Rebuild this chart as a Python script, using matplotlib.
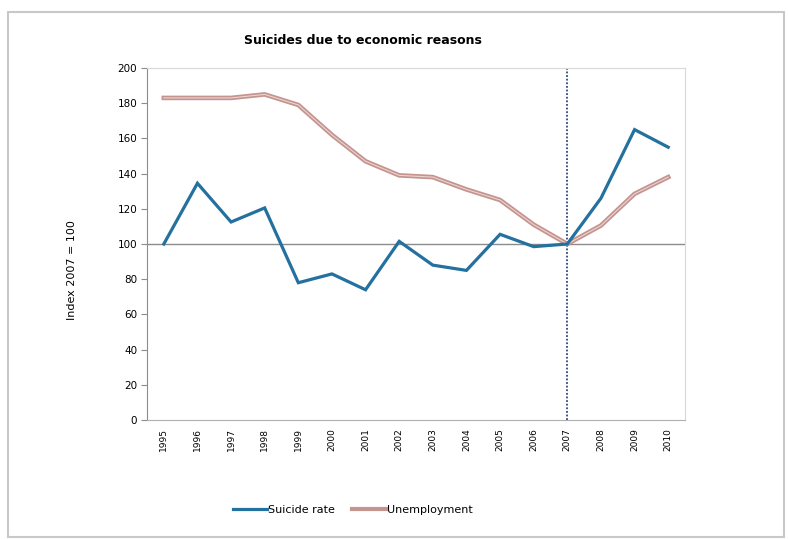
import numpy as np
import matplotlib
matplotlib.use('Agg')
import matplotlib.pyplot as plt
from matplotlib.patches import Rectangle
from matplotlib.lines import Line2D

years = [1995, 1996, 1997, 1998, 1999, 2000, 2001, 2002,
         2003, 2004, 2005, 2006, 2007, 2008, 2009, 2010]
suicide = [100, 134.5, 112.5, 120.5, 78, 83, 74, 101.5,
           88, 85, 105.5, 98.5, 100, 126, 165, 155]
unemployment = [183, 183, 183, 185, 179, 162, 147, 139,
                138, 131, 125, 111, 100, 110.5, 128.5, 138]
yticks = [0, 20, 40, 60, 80, 100, 120, 140, 160, 180, 200]

plt.rcParams['font.family'] = ['DejaVu Sans']

W, H = 788, 539
fig = plt.figure(figsize=(W / 100, H / 100), dpi=100)
ax = fig.add_axes([147 / W, 1 - 420 / H, (685 - 147) / W, (420 - 68) / H])

x = np.arange(len(years))

# outer chart frame
fig.patches.append(Rectangle((8 / W, 1 - 537 / H), (784 - 8) / W, (537 - 12) / H,
                             transform=fig.transFigure, fill=False,
                             edgecolor='#c8c8c8', lw=1.5))

ax.axhline(100, color='#8c8c8c', lw=1.0, zorder=1)
ax.axvline(x[years.index(2007)], color='#2e4a7a', lw=1.3, ls=(0, (1, 1)), zorder=2)

ln1, = ax.plot(x, suicide, color='#24709f', lw=2.3, solid_joinstyle='miter', zorder=4)
ax.plot(x, unemployment, color='#c4948f', lw=3.3, zorder=3)
ax.plot(x, unemployment, color='#ecd3d1', lw=0.8, zorder=3)

ax.set_xlim(-0.5, len(years) - 0.5)
ax.set_ylim(0, 200)
ax.set_xticks(x)
ax.set_xticklabels([str(y) for y in years], rotation=90, fontsize=6.5)
ax.set_yticks(yticks)
ax.set_yticklabels([str(v) for v in yticks], fontsize=7.5)
ax.tick_params(axis='x', length=0, pad=6)
ax.tick_params(axis='y', length=4, color='#8c8c8c', pad=3)

for side in ['top', 'right']:
    ax.spines[side].set_color('#d9d9d9')
ax.spines['left'].set_color('#8c8c8c')
ax.spines['bottom'].set_color('#b0b0b0')

fig.text(363 / W, 1 - 40 / H, 'Suicides due to economic reasons', ha='center', va='center',
         fontsize=9, fontweight='bold')
fig.text(72 / W, 1 - 270 / H, 'Index 2007 = 100', rotation=90, ha='center', va='center',
         fontsize=8)

# legend
h2 = Line2D([], [], color='#c4948f', lw=3.0)
leg = fig.legend([ln1, h2], ['Suicide rate', 'Unemployment'], loc='center',
                 bbox_to_anchor=(353 / W, 1 - 510 / H), ncol=2, frameon=False,
                 fontsize=8, handlelength=3.0, handletextpad=0.1, columnspacing=1.6)

fig.savefig('out.png', dpi=100)
